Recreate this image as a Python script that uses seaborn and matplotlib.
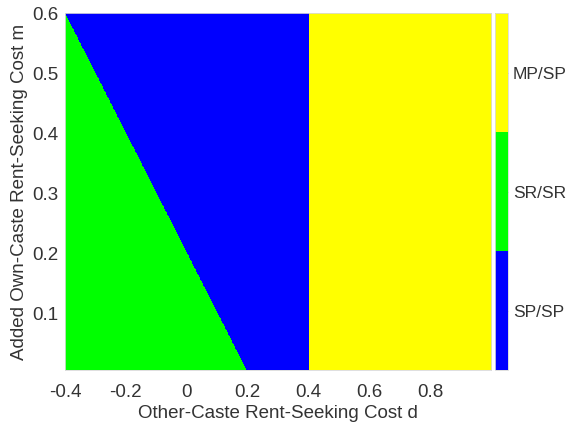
import numpy as np
import seaborn as sns
import matplotlib.pyplot as plt
from matplotlib.colors import ListedColormap, BoundaryNorm

# Regime labels (bottom to top on the colorbar) and their colours
regimes = ["SP/SP", "SR/SR", "MP/SP"]
regime_colors = ["#0000ff", "#00ff00", "#ffff00"]

# Parameter ranges
d_range = [-0.4, 1.0]
m_range = [0.005, 0.6]

# SR/SR boundary line (d, m) endpoints and the MP/SP threshold on d
sr_line_d = [-0.4, 0.2]
sr_line_m = [0.6, 0.0]
mp_threshold_d = 0.4

x_ticks = [-0.4, -0.2, 0, 0.2, 0.4, 0.6, 0.8]
x_ticklabels = ["-0.4", "-0.2", "0", "0.2", "0.4", "0.6", "0.8"]
y_ticks = [0.1, 0.2, 0.3, 0.4, 0.5, 0.6]

sns.set_theme(style="white")
plt.rcParams["font.family"] = ["Liberation Sans", "DejaVu Sans"]

# Classify a fine grid of (d, m) into the three regimes
d = np.linspace(d_range[0], d_range[1], 1400)
m = np.linspace(m_range[0], m_range[1], 900)
D, M = np.meshgrid(d, m)
# d-value of the SR/SR boundary at each m (line through the two endpoints)
d_edge = np.interp(M, sr_line_m[::-1], sr_line_d[::-1])
regime = np.zeros_like(D, dtype=int)          # SP/SP
regime[D < d_edge] = 1                        # SR/SR
regime[D >= mp_threshold_d] = 2               # MP/SP

cmap = ListedColormap(regime_colors)
norm = BoundaryNorm([-0.5, 0.5, 1.5, 2.5], cmap.N)

fig = plt.figure(figsize=(5.69, 4.28), dpi=100)
ax = fig.add_axes([0.1142, 0.1355, 0.7487, 0.834])
cax = fig.add_axes([0.870, 0.1355, 0.0228, 0.834])

im = ax.imshow(regime, origin="lower", aspect="auto", cmap=cmap, norm=norm,
               extent=[d_range[0], d_range[1], m_range[0], m_range[1]],
               interpolation="nearest")

fs = 13.5
ax.set_xlim(d_range)
ax.set_ylim(m_range)
ax.set_xticks(x_ticks)
ax.set_xticklabels(x_ticklabels)
ax.set_yticks(y_ticks)
ax.tick_params(axis="x", labelsize=fs, colors="#333333", length=0, pad=10)
ax.tick_params(axis="y", labelsize=fs, colors="#333333", length=0, pad=5)
ax.set_xlabel("Other-Caste Rent-Seeking Cost d", fontsize=fs, color="#333333",
              labelpad=3)
ax.set_ylabel("Added Own-Caste Rent-Seeking Cost m", fontsize=fs,
              color="#333333", labelpad=3)
for s in ax.spines.values():
    s.set_color("#d9d9d9")
    s.set_linewidth(0.6)

cb = fig.colorbar(im, cax=cax, ticks=[0, 1, 2])
cb.ax.minorticks_off()
cb.ax.set_yticklabels(regimes)
cb.ax.tick_params(labelsize=12.5, colors="#333333", length=2, width=0.5,
                  direction="in", pad=3.5)
cb.outline.set_edgecolor("#d9d9d9")
cb.outline.set_linewidth(0.6)

fig.savefig("out.png", dpi=100)
